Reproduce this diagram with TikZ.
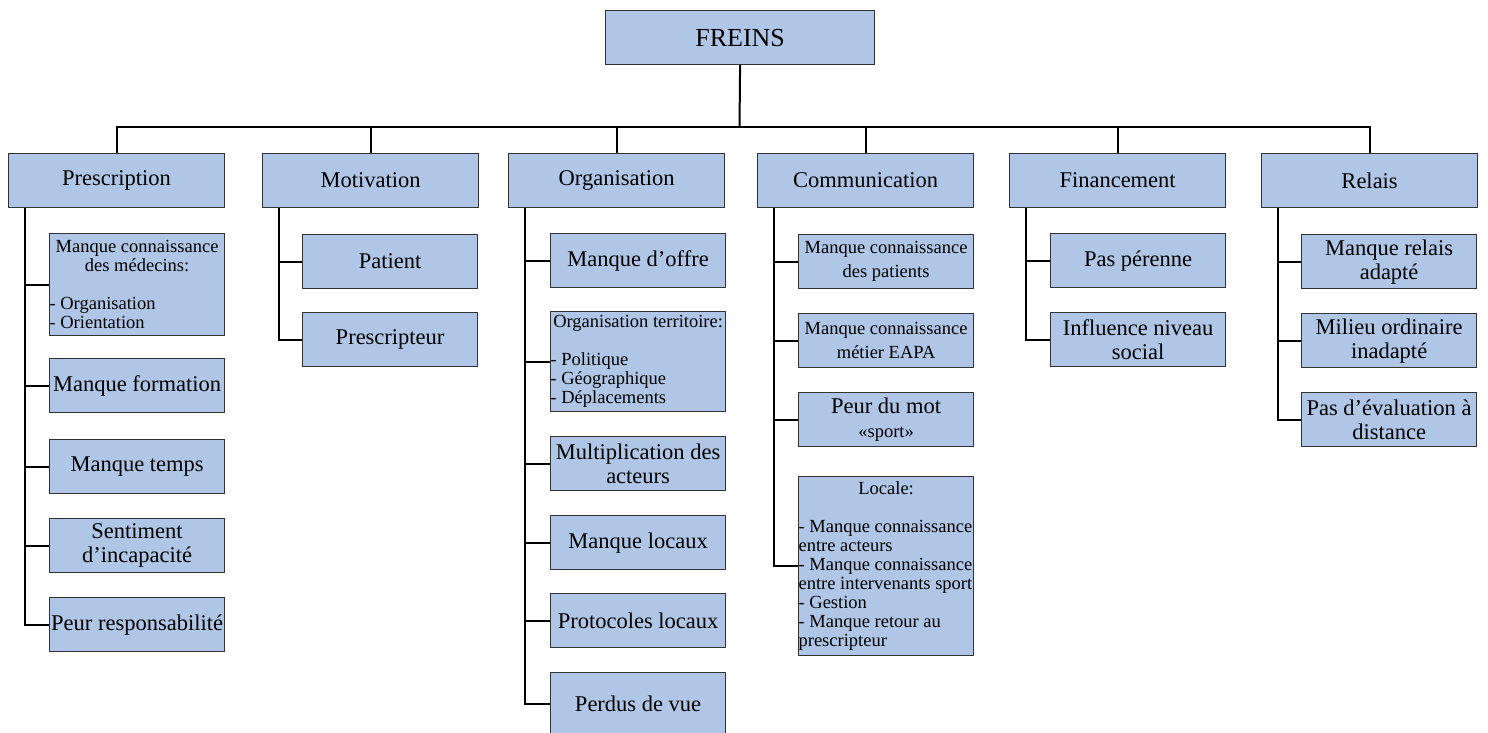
\documentclass[tikz,border=0pt]{standalone}
\usepackage{fontspec}
\setmainfont{Liberation Serif}
\usepackage{tikz}
\definecolor{frblue}{RGB}{176,198,230}
\newcommand{\frbig}{\fontsize{22.5}{24}\selectfont}
\newcommand{\frsmall}{\fontsize{18.5}{19}\selectfont}
\tikzset{
  box/.style={draw=black!80, line width=1.2pt, fill=frblue, anchor=north west, inner sep=0pt, align=flush center},
  catbox/.style={box, minimum width=216pt, minimum height=54pt, font=\frbig},
  itembox/.style={box, text width=175pt, font=\frbig},
  listbox/.style={itembox, align=flush left, font=\frsmall},
  link/.style={line width=2pt, black}
}
\newcommand{\frcat}[3]{\node at (#1) (#2) [catbox] {#3}; \draw [link] (#2.north) |- (bus);}
\newcommand{\fritem}[5]{\node at (#1) (#2) [itembox, minimum height=#4pt] {#5}; \draw [link] ([xshift=17pt]#3.south west) |- (#2.west);}
\newcommand{\frlist}[5]{\node at (#1) (#2) [listbox, minimum height=#4pt] {#5}; \draw [link] ([xshift=17pt]#3.south west) |- (#2.west);}
\begin{document}
\begin{tikzpicture}[x=1pt, y=-1pt]
\useasboundingbox (0,0) rectangle (1488,732);
\node at (605,10) (frn) [box, minimum width=269pt, minimum height=54pt, font=\fontsize{26}{28}\selectfont] {FREINS};
\coordinate (bus) at (739.5,127);
\draw [link] (frn.south) -- (bus);

\frcat{8,153}{prs}{Prescription}
\frcat{262,153}{mot}{Motivation}
\frcat{508,153}{org}{Organisation}
\frcat{757,153}{com}{Communication}
\frcat{1009,153}{fin}{Financement}
\frcat{1261,153}{rel}{Relais}

% Prescription
\frlist{49,233}{prs1}{prs}{102}{{\centering\noindent Manque connaissance\\des médecins:\par}\noindent\mbox{}\\- Organisation\\- Orientation}
\fritem{49,358}{prs2}{prs}{54}{Manque formation}
\fritem{49,439}{prs3}{prs}{54}{Manque temps}
\fritem{49,518}{prs4}{prs}{54}{Sentiment\\d’incapacité}
\fritem{49,597}{prs5}{prs}{54}{Peur responsabilité}

% Motivation
\fritem{302,234}{mot1}{mot}{54}{Patient}
\fritem{302,312}{mot2}{mot}{54}{Prescripteur}

% Organisation
\fritem{550,233}{org1}{org}{54}{Manque d’offre}
\frlist{550,311}{org2}{org}{100}{{\centering\noindent Organisation territoire:\par}\noindent\mbox{}\\- Politique\\- Géographique\\- Déplacements}
\fritem{550,436}{org3}{org}{54}{Multiplication des\\acteurs}
\fritem{550,515}{org4}{org}{54}{Manque locaux}
\fritem{550,593}{org5}{org}{54}{Protocoles locaux}
\fritem{550,672}{org6}{org}{62}{Perdus de vue}

% Communication
\fritem{798,234}{com1}{com}{54}{\frsmall Manque connaissance\\des patients}
\fritem{798,313}{com2}{com}{54}{\frsmall Manque connaissance\\métier EAPA}
\fritem{798,392}{com3}{com}{54}{Peur du mot\\{\frsmall «sport»}}
\frlist{798,476}{com4}{com}{179}{{\centering\noindent Locale:\par}\noindent\mbox{}\\- Manque connaissance\\entre acteurs\\- Manque connaissance\\entre intervenants sport\\- Gestion\\- Manque retour au\\prescripteur}

% Financement
\fritem{1050,233}{fin1}{fin}{54}{Pas pérenne}
\fritem{1050,312}{fin2}{fin}{54}{Influence niveau\\social}

% Relais
\fritem{1301,234}{rel1}{rel}{54}{Manque relais\\adapté}
\fritem{1301,313}{rel2}{rel}{54}{Milieu ordinaire\\inadapté}
\fritem{1301,392}{rel3}{rel}{54}{Pas d’évaluation à\\distance}
\end{tikzpicture}
\end{document}
